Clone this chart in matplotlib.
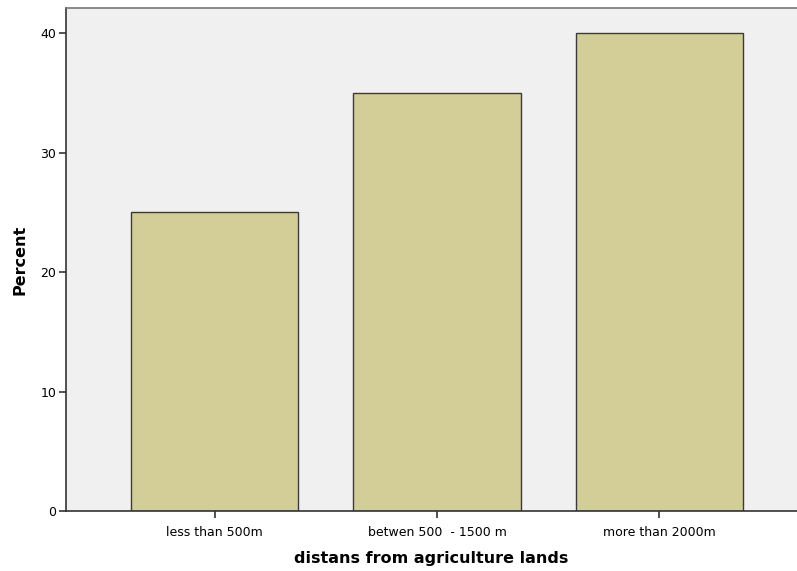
import matplotlib
matplotlib.use('Agg')
import matplotlib.pyplot as plt

plt.rcParams['font.family'] = ['DejaVu Sans']

categories = ['less than 500m', 'betwen 500  - 1500 m', 'more than 2000m']
percent = [25, 35, 40]

fig = plt.figure(figsize=(7.97, 5.71), dpi=100)
ax = fig.add_axes([0.0828, 0.105, 0.9172, 0.881])
ax.set_facecolor('#f0f0f0')

x = range(len(categories))
ax.bar(x, percent, width=0.752, color='#d3ce97', edgecolor='#3a3a3a', linewidth=1.0)

ax.set_xlim(-0.669, 2.619)
ax.set_ylim(0, 42.1)
ax.set_yticks([0, 10, 20, 30, 40])
ax.set_xticks(list(x))
ax.set_xticklabels(categories)

ax.spines['right'].set_visible(False)
for s in ['left', 'bottom', 'top']:
    ax.spines[s].set_color('#333333')
    ax.spines[s].set_linewidth(1.2)
ax.spines['top'].set_color('#777777')

ax.tick_params(axis='both', direction='out', length=5, width=1.2, color='#333333',
               labelsize=9)
ax.tick_params(axis='x', pad=6)
ax.tick_params(axis='y', pad=2)

ax.set_xlabel('distans from agriculture lands', fontsize=11.5, fontweight='bold')
ax.xaxis.set_label_coords(0.5, -0.079)
ax.set_ylabel('Percent', fontsize=11.5, fontweight='bold')
ax.yaxis.set_label_coords(-0.052, 0.5)

fig.savefig('out.png', dpi=100)
